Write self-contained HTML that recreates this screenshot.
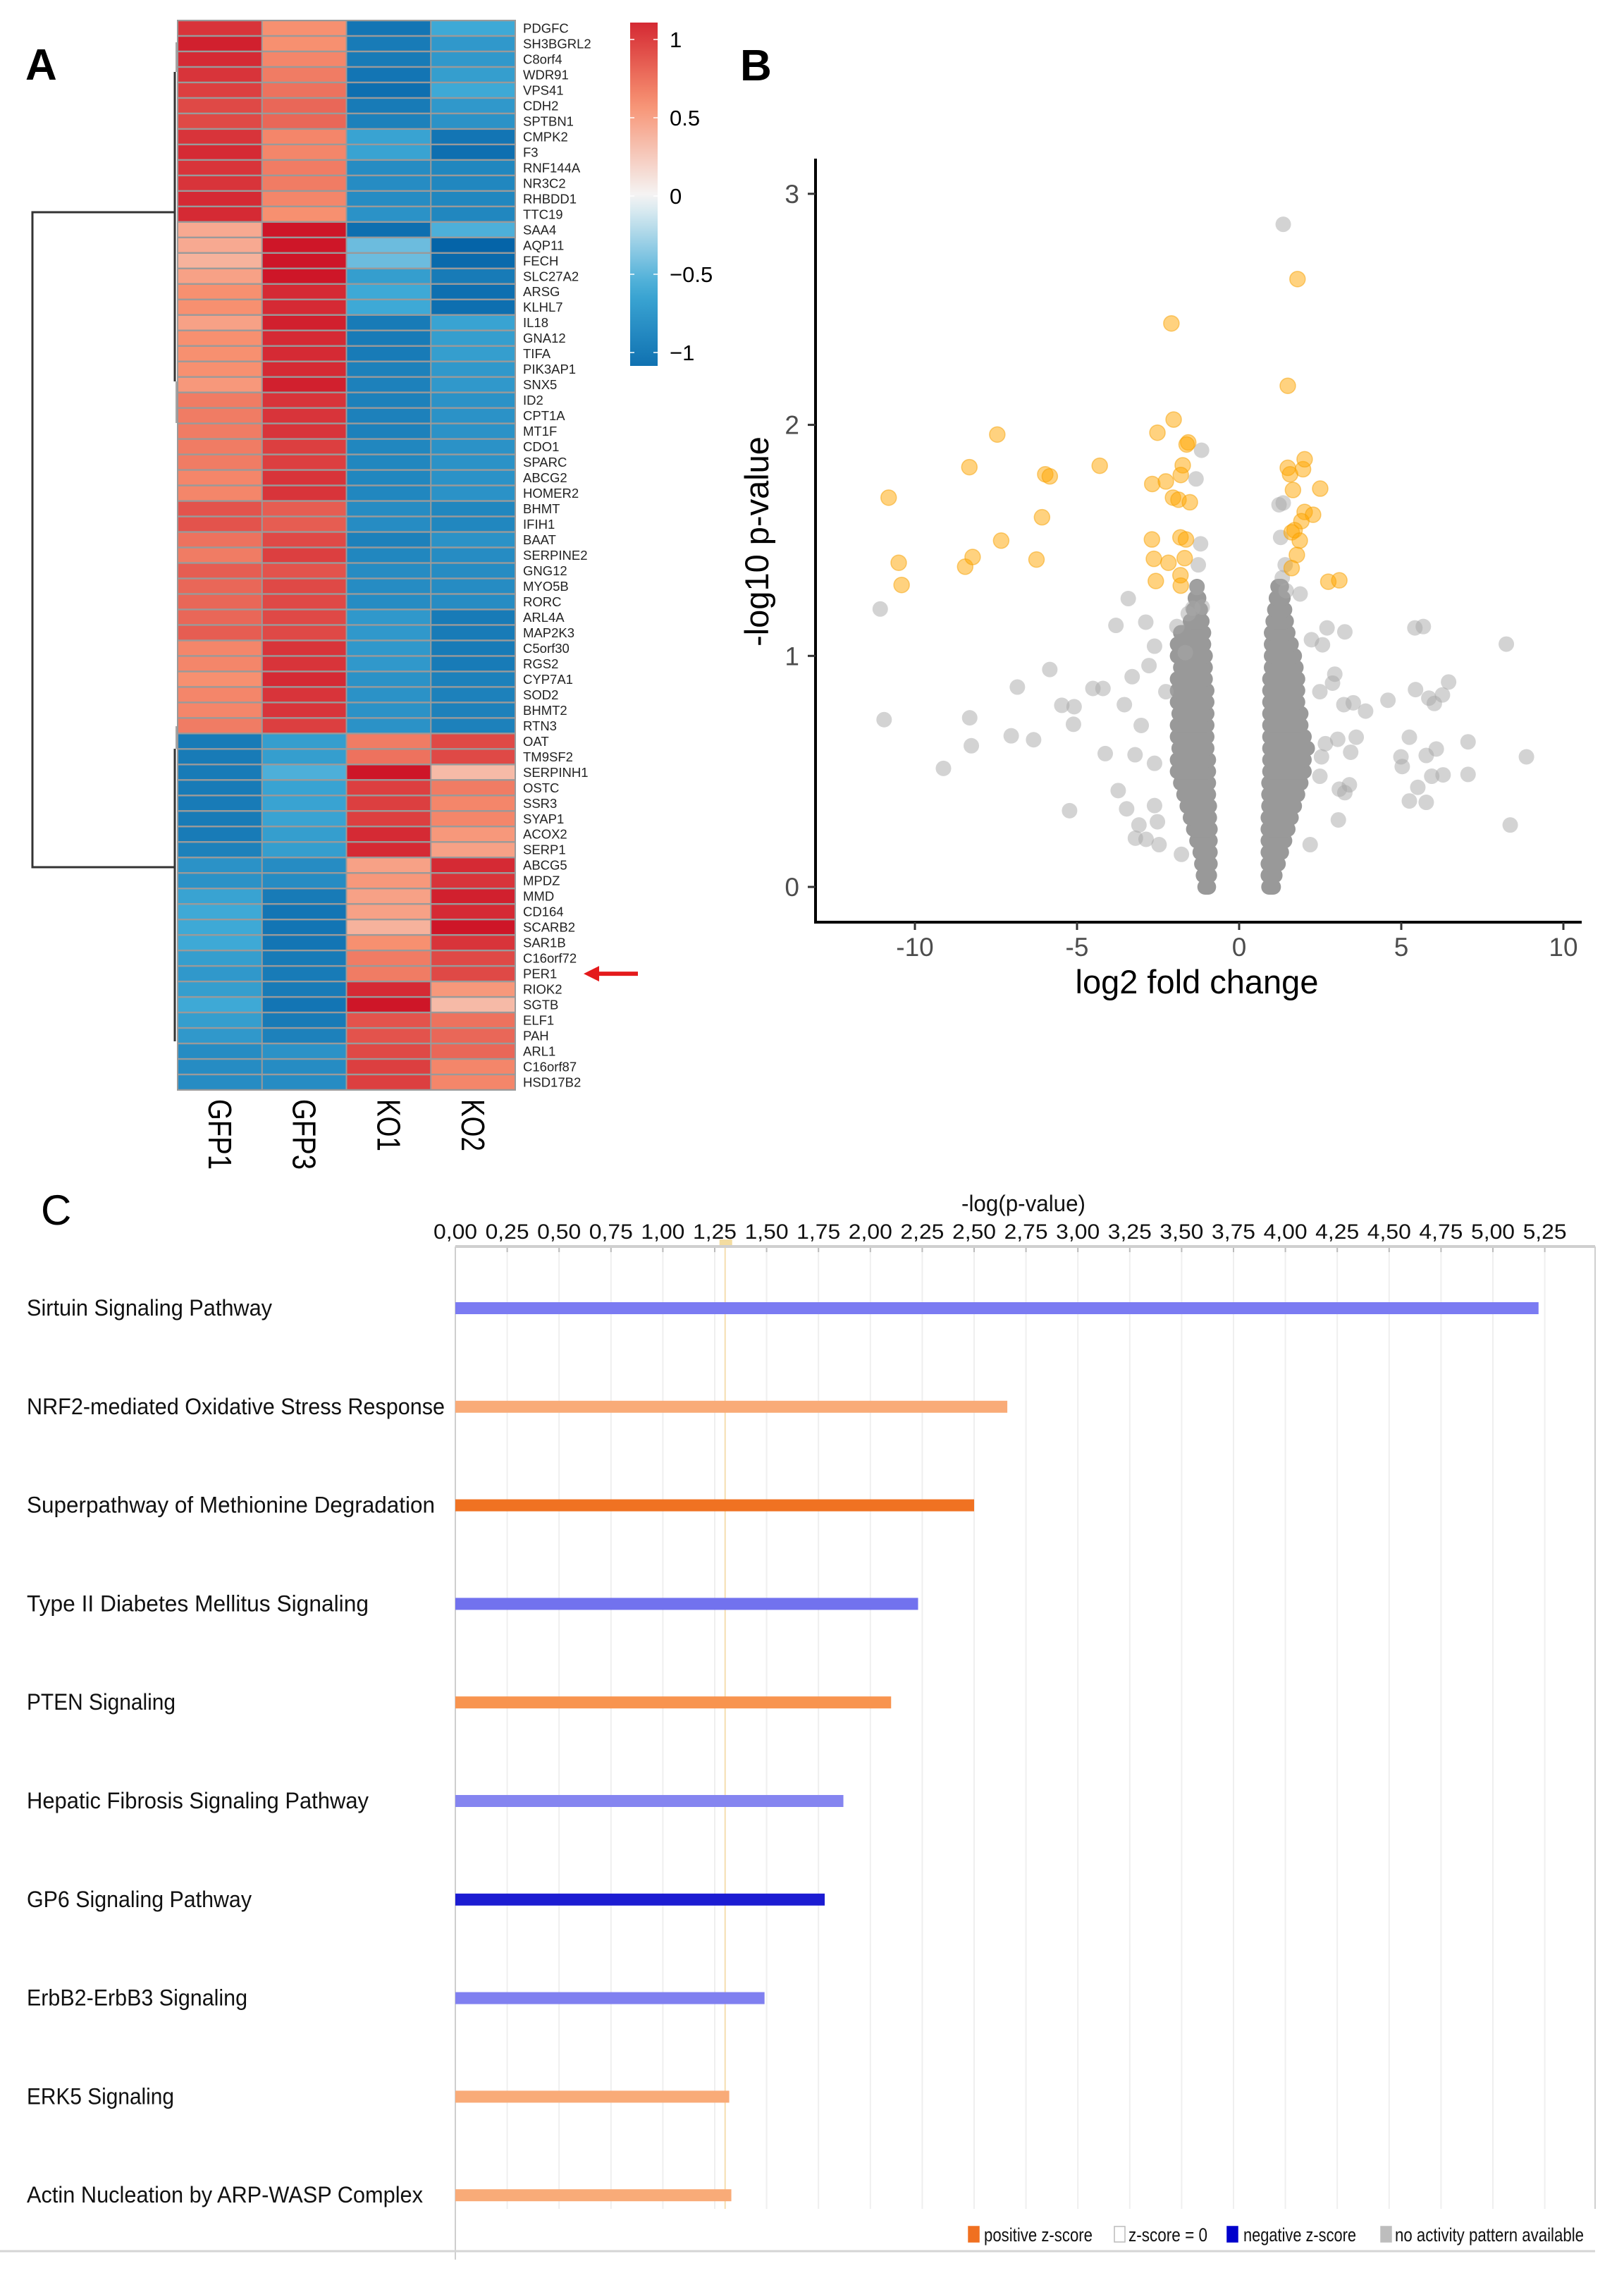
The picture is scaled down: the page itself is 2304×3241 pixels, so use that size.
<!DOCTYPE html>
<html><head><meta charset="utf-8">
<style>
html,body{margin:0;padding:0;background:#fff;}
svg{display:block;}
text{font-family:"Liberation Sans",sans-serif;}
</style></head>
<body>
<svg id="fig" width="2304" height="3241" viewBox="0 0 2304 3241" xmlns="http://www.w3.org/2000/svg">
  <rect x="0" y="0" width="2304" height="3241" fill="#fff"/>
  <text x="36" y="113" font-size="62" font-weight="bold" fill="#000">A</text>
  <text x="1050" y="114" font-size="62" font-weight="bold" fill="#000">B</text>
  <text x="58" y="1737" font-size="60" fill="#000">C</text>
  <g id="heat"></g>
  <g id="volc"></g>
  <g id="bars"></g>
</svg>
<script>
var NS="http://www.w3.org/2000/svg";
function mk(tag,attrs,parent,txt){var e=document.createElementNS(NS,tag);for(var k in attrs)e.setAttribute(k,attrs[k]);if(txt!==undefined)e.textContent=txt;parent.appendChild(e);return e;}

/* ---------------- Heatmap data ---------------- */
var samples=["GFP1","GFP3","KO1","KO2"];
var genes=["PDGFC","SH3BGRL2","C8orf4","WDR91","VPS41","CDH2","SPTBN1","CMPK2","F3","RNF144A","NR3C2","RHBDD1","TTC19","SAA4","AQP11","FECH","SLC27A2","ARSG","KLHL7","IL18","GNA12","TIFA","PIK3AP1","SNX5","ID2","CPT1A","MT1F","CDO1","SPARC","ABCG2","HOMER2","BHMT","IFIH1","BAAT","SERPINE2","GNG12","MYO5B","RORC","ARL4A","MAP2K3","C5orf30","RGS2","CYP7A1","SOD2","BHMT2","RTN3","OAT","TM9SF2","SERPINH1","OSTC","SSR3","SYAP1","ACOX2","SERP1","ABCG5","MPDZ","MMD","CD164","SCARB2","SAR1B","C16orf72","PER1","RIOK2","SGTB","ELF1","PAH","ARL1","C16orf87","HSD17B2"];
var zGFP1=[1.05,1.15,1.1,1.05,1.0,0.95,0.95,1.05,1.1,1.05,1.05,1.1,1.1,0.45,0.45,0.4,0.5,0.6,0.6,0.5,0.6,0.6,0.6,0.55,0.7,0.7,0.7,0.7,0.7,0.65,0.65,0.9,0.9,0.75,0.7,0.85,0.8,0.8,0.8,0.85,0.65,0.65,0.6,0.65,0.65,0.7,-1.0,-1.0,-1.0,-1.0,-1.0,-1.0,-1.0,-0.95,-0.8,-0.8,-0.65,-0.6,-0.6,-0.6,-0.7,-0.75,-0.7,-0.6,-0.7,-0.75,-0.85,-0.85,-0.85];
var zGFP3=[0.6,0.6,0.65,0.7,0.75,0.8,0.8,0.65,0.65,0.7,0.7,0.65,0.6,1.2,1.2,1.2,1.2,1.1,1.1,1.15,1.1,1.1,1.1,1.15,1.05,1.05,1.05,1.0,1.0,1.05,1.05,0.85,0.85,0.95,1.0,0.9,0.95,0.95,0.95,0.95,1.05,1.05,1.1,1.05,1.05,1.0,-0.7,-0.7,-0.55,-0.65,-0.65,-0.65,-0.7,-0.7,-0.85,-0.85,-1.0,-1.05,-1.05,-1.05,-1.0,-1.0,-1.0,-1.05,-1.0,-0.95,-0.8,-0.85,-0.85];
var zKO1=[-1.05,-1.0,-1.0,-1.05,-1.1,-1.0,-0.95,-0.65,-0.65,-0.85,-0.85,-0.85,-0.8,-1.1,-0.45,-0.45,-0.7,-0.6,-0.6,-1.0,-1.0,-1.0,-0.95,-0.95,-0.95,-0.95,-0.95,-0.9,-0.9,-0.9,-0.9,-0.85,-0.85,-0.95,-0.9,-0.85,-0.85,-0.85,-0.75,-0.75,-0.75,-0.75,-0.8,-0.8,-0.8,-0.8,0.7,0.75,1.2,1.0,1.0,1.0,1.1,1.1,0.5,0.55,0.5,0.5,0.4,0.6,0.7,0.7,1.1,1.2,0.9,0.9,0.95,1.0,1.0];
var zKO2=[-0.6,-0.75,-0.75,-0.7,-0.6,-0.75,-0.8,-1.05,-1.1,-0.9,-0.9,-0.9,-0.9,-0.55,-1.2,-1.15,-1.0,-1.1,-1.1,-0.65,-0.7,-0.7,-0.75,-0.75,-0.8,-0.8,-0.8,-0.8,-0.8,-0.8,-0.8,-0.9,-0.9,-0.8,-0.85,-0.85,-0.85,-0.85,-1.0,-1.0,-1.0,-1.0,-0.95,-0.95,-0.95,-0.95,0.95,0.95,0.35,0.7,0.65,0.65,0.55,0.5,1.1,1.05,1.15,1.1,1.2,1.05,0.95,0.95,0.55,0.35,0.75,0.8,0.8,0.65,0.65];
var legendTicks=[1,0.5,0,-0.5,-1];
var legendTickLabels=["1","0.5","0","\u22120.5","\u22121"];

var stops=[[-1.2,[5,100,168]],[-0.6,[62,169,214]],[0,[245,245,245]],[0.6,[247,144,112]],[1.2,[206,22,40]]];
function zcol(v){v=Math.max(-1.2,Math.min(1.2,v));for(var i=0;i<stops.length-1;i++){var a=stops[i],b=stops[i+1];if(v<=b[0]){var t=(v-a[0])/(b[0]-a[0]);var c=a[1].map(function(q,j){return Math.round(q+(b[1][j]-q)*t);});return "rgb("+c.join(",")+")";}}return "rgb(206,22,40)";}

(function(){
  var g=document.getElementById("heat");
  var x0=252,x1=731,y0=29,y1=1546;
  var cw=(x1-x0)/samples.length, rh=(y1-y0)/genes.length;
  var cols=[zGFP1,zGFP3,zKO1,zKO2];
  mk("rect",{x:x0-1,y:y0-1,width:x1-x0+2,height:y1-y0+2,fill:"#9a9a9a"},g);
  for(var c=0;c<samples.length;c++){
    for(var r=0;r<genes.length;r++){
      var cell=mk("rect",{x:x0+c*cw+1,y:y0+r*rh+1.2,width:cw-2,height:rh-2.4,fill:zcol(cols[c][r])},g);
      
      
    }
  }
  for(var r=0;r<genes.length;r++){
    var t=mk("text",{x:742,y:y0+(r+0.5)*rh+6.5,"font-size":18.5,fill:"#222"},g,genes[r]);
    
    
  }
  for(var c=0;c<samples.length;c++){
    var cx=x0+(c+0.5)*cw;
    var len=samples[c].length===4?100:74;
    var t=mk("text",{x:0,y:0,"font-size":46,fill:"#000",textLength:len,lengthAdjust:"spacingAndGlyphs",transform:"translate("+(cx-16)+",1559) rotate(90)"},g,samples[c]);
    
    
  }
  var dg=mk("g",{stroke:"#333","stroke-width":3,fill:"none"},g);
  
  
  mk("path",{d:"M248,102 V541 M248,301 H46 V1230 H248 M248,1062 V1477"},dg);
  mk("path",{d:"M250,60 V102 M250,541 V600 M250,1030 V1062","stroke-width":1.5,stroke:"#888"},dg);
  var ri=genes.indexOf("PER1"), ay=y0+(ri+0.5)*rh;
  var ar=mk("g",{},g);
  
  
  mk("line",{x1:845,y1:ay,x2:905,y2:ay,stroke:"#e41a1c","stroke-width":6},ar);
  mk("polygon",{points:"828,"+ay+" 850,"+(ay-11)+" 850,"+(ay+11),fill:"#e41a1c"},ar);
  var defs=mk("defs",{},g);
  var lg=mk("linearGradient",{id:"cb",x1:0,y1:1,x2:0,y2:0},defs);
  var cbTop=32,cbBot=519,zero=278,unit=222;
  var vTop=(zero-cbTop)/unit, vBot=-(cbBot-zero)/unit;
  for(var i=0;i<=20;i++){var v=vBot+(vTop-vBot)*i/20;mk("stop",{offset:(i/20),"stop-color":zcol(v)},lg);}
  var cb=mk("rect",{x:894,y:cbTop,width:39,height:cbBot-cbTop,fill:"url(#cb)"},g);
  
  
  for(var i=0;i<legendTicks.length;i++){
    var yy=zero-legendTicks[i]*unit;
    mk("line",{x1:894,y1:yy,x2:900,y2:yy,stroke:"#fff","stroke-width":1.5},g);
    mk("line",{x1:927,y1:yy,x2:933,y2:yy,stroke:"#fff","stroke-width":1.5},g);
    var t=mk("text",{x:950,y:yy+11,"font-size":31,fill:"#000"},g,legendTickLabels[i]);
    
    
  }
})();

/* ---------------- Volcano data ---------------- */
var sigX=[-10.81,-10.50,-10.41,-8.45,-8.22,-8.32,-7.46,-7.34,-6.25,-6.08,-5.98,-5.84,-4.30,-2.68,-2.52,-2.26,-2.09,-2.02,-1.74,-1.80,-2.04,-1.87,-1.57,-1.62,-1.52,-2.69,-2.63,-2.18,-2.57,-1.81,-1.80,-1.81,-1.64,-1.68,1.50,1.80,1.50,1.57,1.97,2.02,1.66,2.50,2.02,2.28,1.92,1.71,1.62,1.87,1.78,1.62,2.75,3.09];
var sigY=[1.685,1.403,1.307,1.386,1.428,1.817,1.958,1.499,1.417,1.600,1.786,1.777,1.823,1.744,1.966,1.755,2.439,2.023,1.825,1.783,1.685,1.676,1.924,1.915,1.665,1.504,1.420,1.403,1.324,1.349,1.304,1.513,1.504,1.423,2.169,2.631,1.814,1.786,1.808,1.851,1.718,1.724,1.623,1.611,1.583,1.544,1.535,1.499,1.437,1.380,1.321,1.327];
var nsX=[-11.07,-10.95,-9.12,-8.31,-8.26,-7.03,-6.84,-6.34,-5.84,-5.47,-5.09,-5.11,-5.23,-4.51,-4.20,-4.13,-3.80,-3.42,-2.88,-3.73,-3.47,-3.30,-3.54,-3.21,-3.09,-3.20,-2.87,-2.61,-2.61,-3.02,-2.61,-2.52,-2.47,-2.78,-2.26,-1.78,-1.33,-1.16,-1.19,-1.26,-1.30,-1.57,-1.43,-1.14,-1.92,-1.66,1.36,1.23,1.36,1.28,1.42,1.33,1.45,1.88,2.71,3.26,2.23,2.57,2.95,2.88,2.49,3.23,3.52,3.90,3.61,3.04,2.66,3.44,2.54,3.09,3.40,3.26,3.06,2.49,2.19,4.59,5.42,5.68,5.44,5.85,6.02,6.27,6.46,5.25,4.99,5.03,5.77,6.08,5.51,5.25,5.77,5.94,6.29,7.06,7.06,8.24,8.86,8.36];
var nsY=[1.203,0.724,0.513,0.732,0.611,0.654,0.865,0.637,0.941,0.786,0.780,0.704,0.330,0.859,0.859,0.577,1.132,1.248,1.146,0.417,0.338,0.910,0.789,0.572,0.268,0.211,0.206,0.352,0.535,0.699,1.042,0.282,0.183,0.958,0.845,0.141,1.766,1.890,1.485,1.394,1.296,1.183,1.206,1.211,1.127,1.014,2.868,1.654,1.662,1.513,1.394,1.338,1.282,1.268,1.121,1.104,1.070,1.048,0.921,0.882,0.845,0.789,0.797,0.761,0.648,0.639,0.620,0.583,0.563,0.423,0.442,0.408,0.290,0.479,0.183,0.808,1.121,1.127,0.854,0.817,0.794,0.831,0.887,0.648,0.563,0.521,0.569,0.597,0.431,0.372,0.366,0.479,0.485,0.628,0.487,1.051,0.563,0.268];
var cloudY=[0.00,0.05,0.10,0.15,0.20,0.25,0.30,0.35,0.40,0.45,0.50,0.55,0.60,0.65,0.70,0.75,0.80,0.85,0.90,0.95,1.00,1.05,1.10,1.15,1.20,1.25,1.30];
var cloudLeftMin=[-1.05,-1.1,-1.15,-1.2,-1.3,-1.4,-1.5,-1.6,-1.7,-1.8,-1.9,-1.9,-1.85,-1.9,-1.9,-1.85,-1.9,-1.9,-1.9,-1.8,-1.9,-1.9,-1.8,-1.5,-1.4,-1.35,-1.3];
var cloudLeftMax=[-0.95,-0.92,-0.9,-0.9,-0.9,-0.9,-0.92,-0.92,-0.95,-0.95,-0.95,-0.95,-1.0,-1.0,-1.0,-1.0,-1.0,-1.0,-1.05,-1.05,-1.05,-1.1,-1.1,-1.15,-1.2,-1.25,-1.3];
var cloudRightMin=[0.92,0.9,0.9,0.9,0.9,0.9,0.9,0.92,0.92,0.92,0.95,0.95,0.95,0.95,0.95,0.95,0.95,0.95,0.95,1.0,1.0,1.0,1.0,1.05,1.1,1.15,1.2];
var cloudRightMax=[1.05,1.1,1.2,1.3,1.4,1.5,1.6,1.7,1.8,1.9,2.0,2.0,2.1,2.0,1.9,1.9,1.8,1.8,1.8,1.75,1.7,1.6,1.5,1.45,1.4,1.35,1.3];
var volXTicks=[-10,-5,0,5,10];
var volYTicks=[0,1,2,3];

(function(){
  var g=document.getElementById("volc");
  var X=function(v){return 1758+v*46.0;};
  var Y=function(v){return 1258-v*327.7;};
  var ax=mk("path",{d:"M1157,225 V1308 H2244",stroke:"#000","stroke-width":4,fill:"none"},g);
  
  
  for(var i=0;i<volYTicks.length;i++){
    var yy=Y(volYTicks[i]);
    mk("line",{x1:1146,y1:yy,x2:1157,y2:yy,stroke:"#333","stroke-width":3},g);
    var t=mk("text",{x:1134,y:yy+13,"font-size":37,fill:"#4d4d4d","text-anchor":"end"},g,String(volYTicks[i]));
    
    
  }
  for(var i=0;i<volXTicks.length;i++){
    var xx=X(volXTicks[i]);
    mk("line",{x1:xx,y1:1308,x2:xx,y2:1319,stroke:"#333","stroke-width":3},g);
    var t=mk("text",{x:xx,y:1356,"font-size":37,fill:"#4d4d4d","text-anchor":"middle"},g,String(volXTicks[i]));
    
    
  }
  var xt=mk("text",{x:1698,y:1409,"font-size":47,fill:"#000","text-anchor":"middle"},g,"log2 fold change");
  
  
  var yt=mk("text",{x:0,y:0,"font-size":47,fill:"#000","text-anchor":"middle",transform:"translate(1090,768) rotate(-90)"},g,"-log10 p-value");
  
  
  var pts=mk("g",{},g);
  
  
  for(var r=0;r<cloudY.length;r++){
    var yy=Y(cloudY[r]);
    var l1=mk("line",{x1:X(cloudLeftMin[r]),y1:yy,x2:X(cloudLeftMax[r]),y2:yy,stroke:"#999","stroke-width":22,"stroke-linecap":"round"},pts);
    
    
    var l2=mk("line",{x1:X(cloudRightMin[r]),y1:yy,x2:X(cloudRightMax[r]),y2:yy,stroke:"#999","stroke-width":22,"stroke-linecap":"round"},pts);
    
    
  }
  for(var i=0;i<nsX.length;i++){
    var c=mk("circle",{cx:X(nsX[i]),cy:Y(nsY[i]),r:11,fill:"#a8a8a8","fill-opacity":0.5},pts);
    
    
  }
  for(var i=0;i<sigX.length;i++){
    var c=mk("circle",{cx:X(sigX[i]),cy:Y(sigY[i]),r:11,fill:"#ffa500","fill-opacity":0.5,stroke:"#f5a000","stroke-opacity":0.5,"stroke-width":1.5},pts);
    
    
  }
})();

/* ---------------- Bar chart data ---------------- */
var pathways=["Sirtuin Signaling Pathway","NRF2-mediated Oxidative Stress Response","Superpathway of Methionine Degradation","Type II Diabetes Mellitus Signaling","PTEN Signaling","Hepatic Fibrosis Signaling Pathway","GP6 Signaling Pathway","ErbB2-ErbB3 Signaling","ERK5 Signaling","Actin Nucleation by ARP-WASP Complex"];
var pathwayValues=[5.22,2.66,2.50,2.23,2.10,1.87,1.78,1.49,1.32,1.33];
var pathwayColors=["#7b7bf2","#f9ab78","#f07222","#7272ee","#f8944f","#8585f0","#1c1cd2","#8080f0","#f9ab78","#f9ab78"];
var labelWidths=[348,593,579,485,211,485,319,313,209,562];
var barTicks=[0,0.25,0.5,0.75,1,1.25,1.5,1.75,2,2.25,2.5,2.75,3,3.25,3.5,3.75,4,4.25,4.5,4.75,5,5.25];
var barTickLabels=["0,00","0,25","0,50","0,75","1,00","1,25","1,50","1,75","2,00","2,25","2,50","2,75","3,00","3,25","3,50","3,75","4,00","4,25","4,50","4,75","5,00","5,25"];
var threshold=1.30;

(function(){
  var g=document.getElementById("bars");
  var X=function(v){return 646+v*294.4;};
  var top=1768,bottom=3193,gridBottom=3133,right=2263;
  for(var i=0;i<barTicks.length;i++){
    var xx=X(barTicks[i]);
    mk("line",{x1:xx,y1:top,x2:xx,y2:gridBottom,stroke:"#efefef","stroke-width":2},g);
    mk("line",{x1:xx,y1:top,x2:xx,y2:top+8,stroke:"#bbb","stroke-width":2},g);
    var t=mk("text",{x:xx,y:1757,"font-size":30,fill:"#111","text-anchor":"middle",textLength:62,lengthAdjust:"spacingAndGlyphs"},g,barTickLabels[i]);
    
    
  }
  var th=mk("line",{x1:X(threshold),y1:top,x2:X(threshold),y2:gridBottom,stroke:"#f6deb0","stroke-width":2},g);
  
  
  mk("rect",{x:X(threshold)-8,y:top-10,width:18,height:8,fill:"#f3dca0"},g);
  mk("line",{x1:646,y1:top,x2:right,y2:top,stroke:"#cfcfcf","stroke-width":4},g);
  mk("line",{x1:646,y1:top,x2:646,y2:3205,stroke:"#cfcfcf","stroke-width":2},g);
  mk("line",{x1:right,y1:top,x2:right,y2:gridBottom,stroke:"#cfcfcf","stroke-width":2},g);
  mk("line",{x1:0,y1:bottom,x2:right,y2:bottom,stroke:"#d5d5d5","stroke-width":3},g);
  var tt=mk("text",{x:1452,y:1718,"font-size":32,fill:"#111","text-anchor":"middle",textLength:176,lengthAdjust:"spacingAndGlyphs"},g,"-log(p-value)");
  
  
  for(var i=0;i<pathways.length;i++){
    var cy=1855+i*139.8;
    var b=mk("rect",{x:646,y:cy-8,width:X(pathwayValues[i])-646,height:17,fill:pathwayColors[i]},g);
    
    
    var t=mk("text",{x:38,y:cy+11,"font-size":32,fill:"#111",textLength:labelWidths[i],lengthAdjust:"spacingAndGlyphs"},g,pathways[i]);
    
    
  }
  var lgd=mk("g",{},g);
  
  
  var items=[[1374,"#f07020","#f07020","positive z-score",1396,154],[1581,"#fff","#bbb","z-score = 0",1601,112],[1741,"#0000cc","#0000cc","negative z-score",1764,160],[1959,"#bdbdbd","#bdbdbd","no activity pattern available",1979,268]];
  for(var i=0;i<items.length;i++){
    var it=items[i];
    mk("rect",{x:it[0],y:3158,width:15,height:22,fill:it[1],stroke:it[2],"stroke-width":1.5},lgd);
    var t=mk("text",{x:it[4],y:3179,"font-size":27,fill:"#111",textLength:it[5],lengthAdjust:"spacingAndGlyphs"},lgd,it[3]);
    
    
  }
})();
</script>
</body></html>
